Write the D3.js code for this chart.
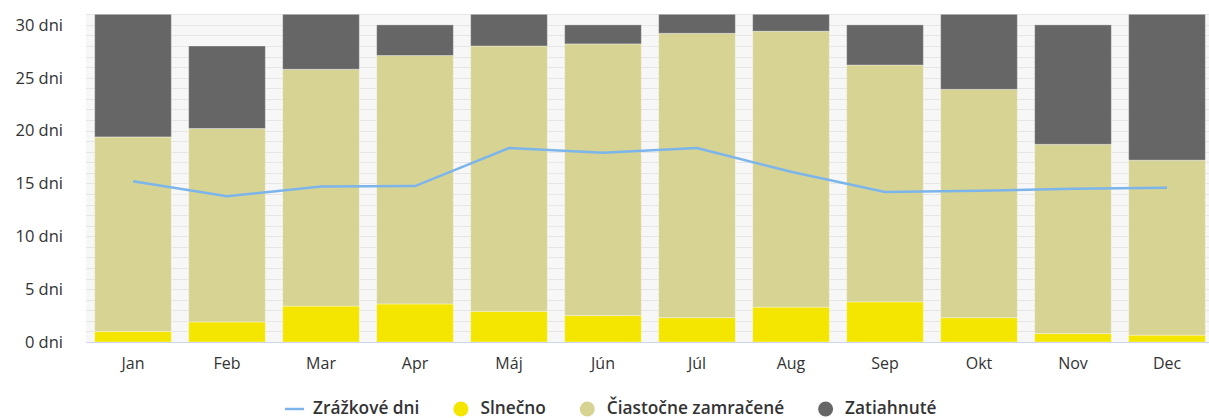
<!DOCTYPE html>
<html><head><meta charset="utf-8">
<script src="https://cdn.jsdelivr.net/npm/d3@7"></script>
<style>body{margin:0;background:#fff}svg{display:block}text{font-family:"Open Sans",sans-serif;fill:#333}</style>
</head><body><svg id="c" width="1209" height="418"></svg>
<script>
const months = ["Jan","Feb","Mar","Apr","Máj","Jún","Júl","Aug","Sep","Okt","Nov","Dec"];
const sunny    = [1.0, 1.9, 3.4, 3.6, 2.9, 2.5, 2.3, 3.3, 3.8, 2.3, 0.8, 0.65];
const partly   = [18.4, 18.3, 22.4, 23.5, 25.1, 25.7, 26.9, 26.1, 22.4, 21.6, 17.9, 16.55];
const overcast = [11.6, 7.8, 5.2, 2.9, 3.0, 1.8, 1.8, 1.6, 3.8, 7.1, 11.3, 13.8];
const rainDays = [15.2, 13.8, 14.7, 14.75, 18.35, 17.9, 18.35, 16.1, 14.2, 14.3, 14.5, 14.6];
const yTicks = [0, 5, 10, 15, 20, 25, 30];
const seriesNames = ["Zrážkové dni", "Slnečno", "Čiastočne zamračené", "Zatiahnuté"];
const colors = {sunny:"#f4e600", partly:"#d7d393", overcast:"#666666", rain:"#7cb5ec"};

const svg = d3.select("#c");
const x = d3.scaleBand().domain(months).range([86, 1214]).paddingInner(0.184).paddingOuter(0.092);
const y = d3.scaleLinear().domain([0, 31]).range([342, 14.3]);

svg.append("rect").attr("x", 86).attr("y", y(31)).attr("width", 1128).attr("height", y(0) - y(31)).attr("fill", "#f7f7f7");
svg.append("g").selectAll("line").data(d3.range(1, 32)).join("line")
  .attr("x1", 86).attr("x2", 1214).attr("y1", d => Math.round(y(d)) + 0.5).attr("y2", d => Math.round(y(d)) + 0.5)
  .attr("stroke", "#e6e6e6").attr("stroke-width", 1);

const yAxis = d3.axisLeft(y).tickValues(yTicks).tickSize(0).tickPadding(0).tickFormat(d => d + " dni");
const gy = svg.append("g").attr("transform", "translate(63,0)").call(yAxis);
gy.select(".domain").remove();
gy.selectAll("text").attr("font-size", 16.5).attr("fill", "#333").style("font-family", '"Open Sans",sans-serif');

const data = months.map((m, i) => ({month: m, sunny: sunny[i], partly: partly[i], overcast: overcast[i]}));
const stack = d3.stack().keys(["sunny", "partly", "overcast"]);
const layers = stack(data);
svg.append("g").selectAll("g").data(layers).join("g")
  .attr("fill", d => colors[d.key])
  .selectAll("rect").data(d => d).join("rect")
  .attr("x", d => x(d.data.month)).attr("width", x.bandwidth())
  .attr("y", d => y(d[1])).attr("height", d => y(d[0]) - y(d[1]))
  .attr("stroke", "#ffffff").attr("stroke-opacity", 0.35).attr("stroke-width", 1);

svg.append("line").attr("x1", 86).attr("x2", 1214).attr("y1", 342.5).attr("y2", 342.5).attr("stroke", "#ccd6eb");
const xAxis = d3.axisBottom(x).tickSize(0).tickPadding(0);
const gx = svg.append("g").attr("transform", "translate(0,342)").call(xAxis);
gx.select(".domain").remove();
gx.selectAll("text").attr("font-size", 16).attr("fill", "#333").attr("dy", 0).attr("y", 27).style("font-family", '"Open Sans",sans-serif');

const line = d3.line().x((d, i) => x(months[i]) + x.bandwidth() / 2).y(d => y(d));
svg.append("path").datum(rainDays).attr("d", line).attr("fill", "none")
  .attr("stroke", colors.rain).attr("stroke-width", 2.5);

const leg = svg.append("g");
const items = [
  {name: seriesNames[0], type: "line", color: colors.rain},
  {name: seriesNames[1], type: "dot", color: colors.sunny},
  {name: seriesNames[2], type: "dot", color: colors.partly},
  {name: seriesNames[3], type: "dot", color: colors.overcast}
];
let cx = 0;
const ly = 409;
items.forEach((it, i) => {
  const g = leg.append("g");
  let tx;
  if (it.type === "line") {
    g.append("line").attr("x1", cx).attr("x2", cx + 19).attr("y1", ly).attr("y2", ly).attr("stroke", it.color).attr("stroke-width", 2.5);
    tx = cx + 28;
  } else {
    g.append("circle").attr("cx", cx + 7.5).attr("cy", ly).attr("r", 7.5).attr("fill", it.color);
    tx = cx + 27;
  }
  const t = g.append("text").attr("x", tx).attr("y", ly + 5).attr("font-size", 17.3).attr("font-weight", 600).text(it.name);
  cx = tx + t.node().getComputedTextLength() + 34;
});
leg.attr("transform", `translate(${285},0)`);
</script></body></html>
